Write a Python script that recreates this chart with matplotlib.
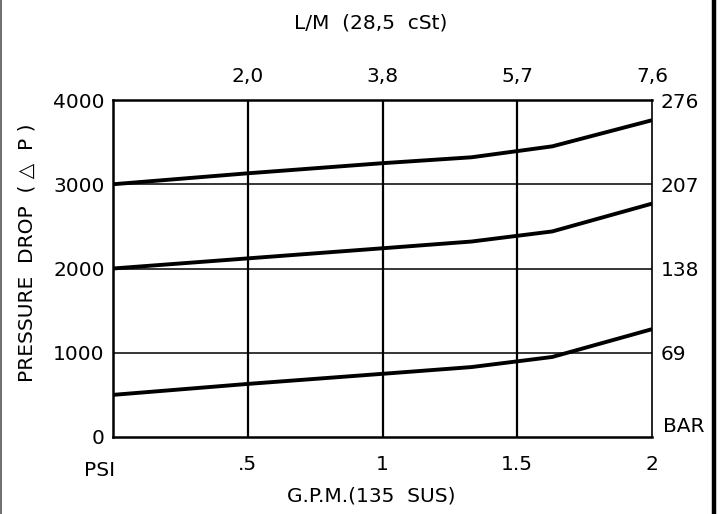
import matplotlib
matplotlib.use("Agg")
import matplotlib.pyplot as plt
from matplotlib.lines import Line2D

# flow (GPM) and pressure drop (PSI)
gpm = [0.0, 0.5, 1.0, 1.33, 1.63, 2.0]
psi_high = [3000, 3130, 3250, 3320, 3450, 3760]
psi_mid = [2000, 2120, 2240, 2320, 2440, 2770]
psi_low = [500, 630, 750, 830, 950, 1280]

bottom_ticks = [0.5, 1.0, 1.5, 2.0]
bottom_labels = [".5", "1", "1.5", "2"]
top_labels = ["2,0", "3,8", "5,7", "7,6"]
psi_ticks = [0, 1000, 2000, 3000, 4000]
bar_ticks = [1000, 2000, 3000, 4000]
bar_labels = ["69", "138", "207", "276"]

plt.rcParams['font.family'] = ['DejaVu Sans']
FS = 14.5

fig = plt.figure(figsize=(7.22, 5.14), dpi=100)
W, H = 722, 514
ax = fig.add_axes([113 / W, 1 - 437 / H, (652 - 113) / W, (437 - 100) / H])
ax.set_xlim(0, 2)
ax.set_ylim(0, 4000)

# grid
for x in bottom_ticks[:-1]:
    ax.axvline(x, color='black', lw=1.6, zorder=1)
for y in psi_ticks[1:-1]:
    ax.axhline(y, color='black', lw=1.1, zorder=1)

for series in (psi_high, psi_mid, psi_low):
    ax.plot(gpm, series, color='black', lw=2.8, solid_capstyle='butt', zorder=3)

for side in ('left', 'bottom', 'top'):
    ax.spines[side].set_linewidth(1.8)
ax.spines['right'].set_linewidth(1.2)

ax.tick_params(length=0)
ax.set_yticks(psi_ticks)
ax.set_yticklabels([str(v) for v in psi_ticks], fontsize=FS)
ax.tick_params(axis='y', pad=6)
ax.set_xticks(bottom_ticks)
ax.set_xticklabels(bottom_labels, fontsize=FS)
ax.tick_params(axis='x', pad=13)

# top axis L/M
top = ax.secondary_xaxis('top')
top.set_xticks(bottom_ticks)
top.set_xticklabels(top_labels, fontsize=FS)
top.tick_params(length=0, pad=10)
top.spines['top'].set_visible(False)

# right axis BAR
right = ax.secondary_yaxis('right')
right.set_yticks(bar_ticks)
right.set_yticklabels(bar_labels, fontsize=FS)
right.tick_params(length=0, pad=6)
right.spines['right'].set_visible(False)

fig.text(371 / W, 1 - 23 / H, "L/M  (28,5  cSt)", ha='center', va='center', fontsize=FS)
fig.text(371 / W, 1 - 496 / H, "G.P.M.(135  SUS)", ha='center', va='center', fontsize=FS)
fig.text(100 / W, 1 - 471 / H, "PSI", ha='center', va='center', fontsize=FS)
fig.text(684 / W, 1 - 427 / H, "BAR", ha='center', va='center', fontsize=FS)
fig.text(27 / W, 1 - 253 / H, "PRESSURE  DROP  ( \u25b3  P )", ha='center', va='center',
         rotation=90, fontsize=FS)

# page border remnants
fig.add_artist(Line2D([1 / W, 1 / W], [0, 1], color='#555555', lw=1.2))
fig.add_artist(Line2D([714 / W, 714 / W], [0, 1], color='black', lw=3.2))

fig.savefig("out.png", dpi=100)
